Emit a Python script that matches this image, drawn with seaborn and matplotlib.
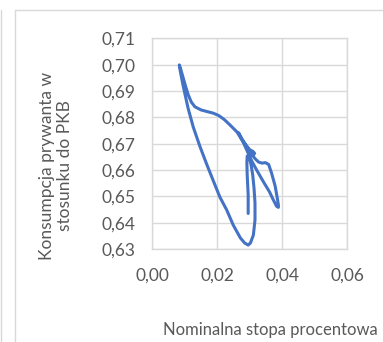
import matplotlib
matplotlib.use("Agg")
import matplotlib.pyplot as plt
from matplotlib.lines import Line2D
import seaborn as sns
import pandas as pd

# Trajectory (in drawing order)
stopa = [
    0.0295, 0.0295, 0.0292, 0.0291, 0.0292,
    0.0298, 0.0304, 0.0309, 0.0313, 0.0316, 0.0316, 0.0311, 0.0302, 0.0295,
    0.0284, 0.0271, 0.0249, 0.0229, 0.0208, 0.0188, 0.0167, 0.0147, 0.0126,
    0.0110, 0.0095, 0.0086, 0.0083,
    0.0088, 0.0095, 0.0103, 0.0111, 0.0120, 0.0131, 0.0150, 0.0168, 0.0187, 0.0204,
    0.0221, 0.0239, 0.0260, 0.0280, 0.0295, 0.0307, 0.0317,
    0.0327, 0.0338, 0.0348, 0.0358, 0.0367, 0.0378, 0.0385, 0.0388, 0.0388,
    0.0382, 0.0371, 0.0361, 0.0342, 0.0321, 0.0306, 0.0296,
    0.0285, 0.0275, 0.0265,
    0.0275, 0.0287, 0.0299,
    0.0310, 0.0315, 0.0310, 0.0305, 0.0308,
]
konsumpcja = [
    0.6435, 0.6505, 0.6581, 0.6630, 0.6653,
    0.6649, 0.6619, 0.6581, 0.6531, 0.6475, 0.6410, 0.6353, 0.6323, 0.6315,
    0.6323, 0.6342, 0.6391, 0.6448, 0.6497, 0.6558, 0.6623, 0.6688, 0.6763,
    0.6835, 0.6919, 0.6976, 0.6999,
    0.6980, 0.6950, 0.6915, 0.6884, 0.6858, 0.6840, 0.6828, 0.6822, 0.6816, 0.6807,
    0.6792, 0.6771, 0.6745, 0.6707, 0.6680, 0.6657, 0.6642,
    0.6630, 0.6626, 0.6628, 0.6621, 0.6588, 0.6539, 0.6490, 0.6467, 0.6458,
    0.6463, 0.6490, 0.6516, 0.6555, 0.6600, 0.6634, 0.6661,
    0.6691, 0.6718, 0.6742,
    0.6719, 0.6697, 0.6678,
    0.6670, 0.6663, 0.6657, 0.6664, 0.6668,
]
x_ticks = [0.00, 0.02, 0.04, 0.06]
x_tick_labels = ["0,00", "0,02", "0,04", "0,06"]
y_ticks = [0.63, 0.64, 0.65, 0.66, 0.67, 0.68, 0.69, 0.70, 0.71]
y_tick_labels = ["0,63", "0,64", "0,65", "0,66", "0,67", "0,68", "0,69", "0,70", "0,71"]

df = pd.DataFrame({"stopa": stopa, "konsumpcja": konsumpcja})

sns.set_theme(style="white")
plt.rcParams["font.family"] = ["Lato", "DejaVu Sans"]

W, H = 383, 342
fig = plt.figure(figsize=(W / 100, H / 100), dpi=100)
ax = fig.add_axes([152.3 / W, 1 - 249 / H, 195 / W, (249 - 38.3) / H])

sns.lineplot(data=df, x="stopa", y="konsumpcja", sort=False, estimator=None,
             color="#4472C4", linewidth=2.2, ax=ax,
             solid_joinstyle="round", solid_capstyle="round")

grid_c = "#d9d9d9"
text_c = "#595959"
ax.set_xlim(0, 0.06)
ax.set_ylim(0.63, 0.71)
ax.set_xticks(x_ticks)
ax.set_xticklabels(x_tick_labels)
ax.set_yticks(y_ticks)
ax.set_yticklabels(y_tick_labels)
ax.grid(True, color=grid_c, linewidth=1.0)
ax.set_axisbelow(True)
for s in ax.spines.values():
    s.set_color(grid_c)
    s.set_linewidth(1.0)
ax.tick_params(axis="both", length=0, labelsize=12.5, colors=text_c)
ax.tick_params(axis="y", pad=12)
ax.tick_params(axis="x", pad=13.5)

ax.set_xlabel("Nominalna stopa procentowa", fontsize=12, color=text_c)
ax.xaxis.set_label_coords(0.603, -0.384)
ax.xaxis.label.set_va("center")
ax.set_ylabel("Konsumpcja prywanta w\nstosunku do PKB", fontsize=12.5,
              color=text_c, linespacing=1.1)
ax.yaxis.set_label_coords((56 - 152.3) / 195, (249 - 166) / 210.7)
ax.yaxis.label.set_va("center")
ax.yaxis.label.set_ha("center")

# chart frame lines (as in the source screenshot)
fig.add_artist(Line2D([1.5 / W, 1.5 / W], [0, 1 - 10 / H], color=grid_c, linewidth=1.0))
fig.add_artist(Line2D([15 / W, 15 / W], [0, 1 - 9.5 / H], color=grid_c, linewidth=1.0))
fig.add_artist(Line2D([15 / W, 1], [1 - 9.5 / H, 1 - 9.5 / H], color=grid_c, linewidth=1.0))

fig.savefig("out.png", dpi=100)
